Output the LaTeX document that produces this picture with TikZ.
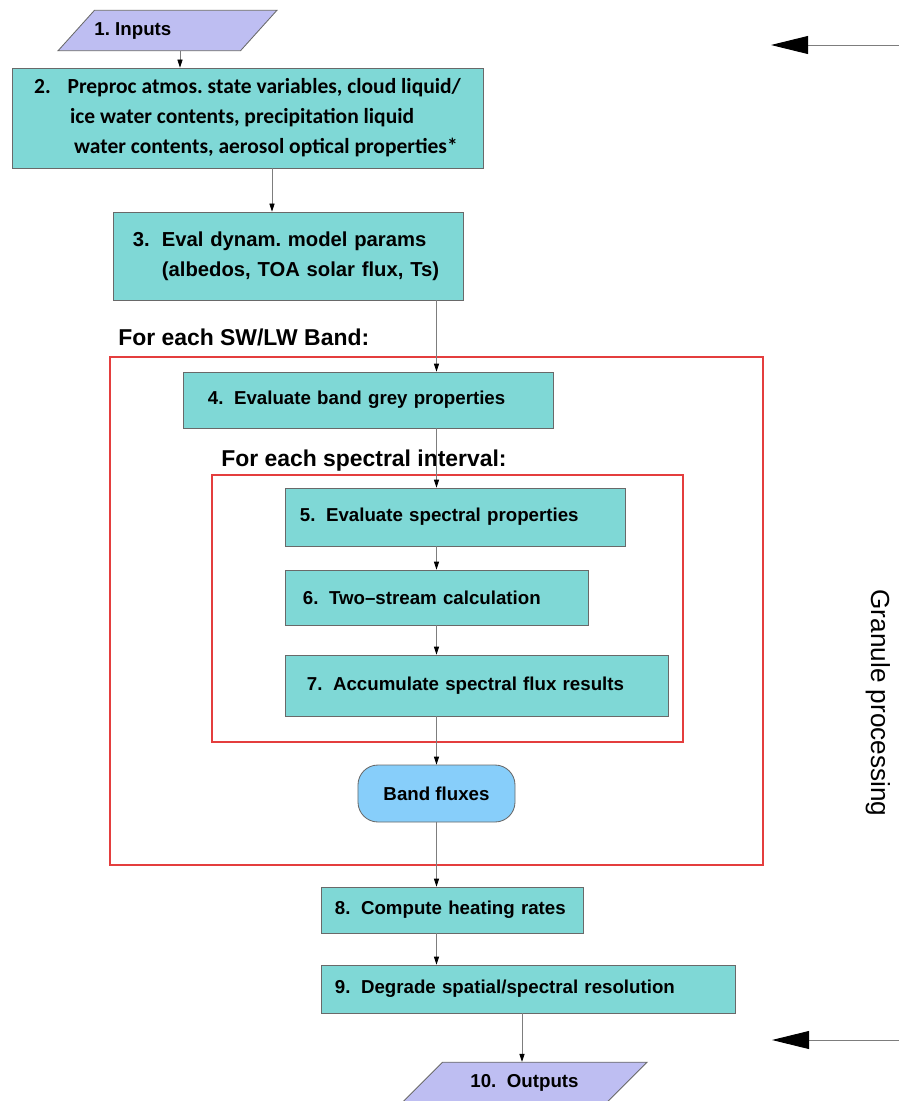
\documentclass[tikz,border=0pt]{standalone}
\usepackage{fontspec}
\setmainfont{Liberation Sans}
\newfontfamily\calfont{Carlito}
\usetikzlibrary{shapes.geometric,arrows.meta}
\definecolor{boxfill}{RGB}{127,216,214}
\definecolor{iofill}{RGB}{190,190,242}
\definecolor{fluxfill}{RGB}{135,206,250}
\definecolor{edgegray}{RGB}{105,105,105}
\definecolor{linegray}{RGB}{125,125,125}
\definecolor{loopred}{RGB}{228,62,62}
\tikzstyle{proc} = [rectangle, draw=edgegray, line width=0.6pt, fill=boxfill, align=left, font=\fontsize{13.3pt}{16pt}\selectfont\bfseries]
\tikzstyle{io} = [trapezium, trapezium stretches body=true, draw=edgegray, line width=0.6pt, fill=iofill, inner xsep=0.15cm, inner ysep=8.4pt, font=\fontsize{13.3pt}{16pt}\selectfont\bfseries]
\tikzstyle{flux} = [rectangle, rounded corners=0.5cm, draw=edgegray, line width=0.6pt, fill=fluxfill, font=\fontsize{13.3pt}{16pt}\selectfont\bfseries]
\tikzstyle{loopbox} = [draw=loopred, line width=0.8pt]
\tikzstyle{looplabel} = [anchor=west, inner sep=0pt, font=\fontsize{16.3pt}{19pt}\selectfont\bfseries]
\tikzstyle{arr} = [draw=linegray, line width=0.6pt, -{Triangle[length=0.2cm,width=0.13cm,color=black]}]
\tikzstyle{bigarr} = [draw=linegray, line width=0.7pt, -{Triangle[length=0.93cm,width=0.45cm,color=black]}]

\begin{document}
\frenchspacing
\begin{tikzpicture}[x=0.025cm, y=-0.025cm]
	\useasboundingbox (0,0) rectangle (899,1101);
	\draw[loopbox] (110,357) rectangle (763,865);
	\draw[loopbox] (212,475) rectangle (683,742);
	\node[looplabel] (bandlbl) at (118,337) {For each SW/LW Band:};
	\node[looplabel] (speclbl) at (221,461) {For each spectral interval:};

	\node[io, trapezium left angle=48, trapezium right angle=132,
		inner xsep=0pt, minimum width=5.175cm] (inp) at (167.5,30.5)
		{1. Inputs\hspace*{1.73cm}};
	\node[proc, font=\calfont\fontsize{15.3pt}{21.3pt}\selectfont\bfseries,
		minimum width=11.775cm, minimum height=2.5cm] (pre) at (247.5,118)
		{2.\hspace{0.42cm}Preproc atmos. state variables, cloud liquid/\\
		\hspace*{0.9cm}ice water contents, precipitation liquid\\
		\hspace*{1.0cm}water contents, aerosol optical properties*};
	\node[proc, font=\fontsize{14.4pt}{21.3pt}\selectfont\bfseries,
		text width=7.75cm, inner xsep=0.5cm, minimum height=2.2cm] (dyn) at (288,256)
		{3.\hspace{0.3cm}Eval dynam. model params\\
		\hspace*{0.725cm}(albedos, TOA solar flux, Ts)};
	\node[proc, text width=8cm, inner xsep=0.625cm, minimum height=1.4cm] (grey) at (368,400)
		{4.\hspace{0.56em}Evaluate band grey properties};
	\node[proc, text width=7.75cm, inner xsep=0.375cm, minimum height=1.45cm] (spec) at (455,517)
		{5.\hspace{0.56em}Evaluate spectral properties};
	\node[proc, text width=6.675cm, inner xsep=0.45cm, minimum height=1.375cm] (twos) at (436.5,597.5)
		{6.\hspace{0.56em}Two--stream calculation};
	\node[proc, text width=8.475cm, inner xsep=0.55cm, minimum height=1.525cm] (accum) at (476.5,685.5)
		{7.\hspace{0.56em}Accumulate spectral flux results};
	\node[flux, minimum width=3.925cm, minimum height=1.425cm] (bflux) at (436.5,793.5)
		{Band fluxes};
	\node[proc, text width=5.85cm, inner xsep=0.35cm, minimum height=1.15cm] (heat) at (452,910)
		{8.\hspace{0.56em}Compute heating rates};
	\node[proc, text width=9.65cm, inner xsep=0.35cm, minimum height=1.2cm] (degr) at (528,989)
		{9.\hspace{0.56em}Degrade spatial/spectral resolution};
	\node[io, trapezium left angle=45, trapezium right angle=135,
		minimum width=6.125cm] (outp) at (524.5,1082.5)
		{10.\hspace{0.56em}Outputs};

	\node[rotate=-90, font=\fontsize{18.6pt}{22pt}\selectfont] (gran) at (878,703) {Granule processing};

	\draw[arr] (inp.south -| 180,0) -- (pre.north -| 180,0);
	\draw[arr] (pre.south -| 272,0) -- (dyn.north -| 272,0);
	\draw[arr] (dyn.south -| bflux) -- (grey.north -| bflux);
	\draw[arr] (grey.south -| bflux) -- (spec.north -| bflux);
	\draw[arr] (spec.south -| bflux) -- (twos.north -| bflux);
	\draw[arr] (twos.south -| bflux) -- (accum.north -| bflux);
	\draw[arr] (accum.south -| bflux) -- (bflux.north);
	\draw[arr] (bflux.south) -- (heat.north -| bflux);
	\draw[arr] (heat.south -| bflux) -- (degr.north -| bflux);
	\draw[arr] (degr.south -| 522,0) -- (outp.north -| 522,0);

	\coordinate (inR) at (899,45);
	\coordinate (inT) at (771,45);
	\coordinate (outR) at (899,1040);
	\coordinate (outT) at (772,1040);
	\draw[bigarr] (inR) -- (inT);
	\draw[bigarr] (outR) -- (outT);
\end{tikzpicture}
\end{document}
